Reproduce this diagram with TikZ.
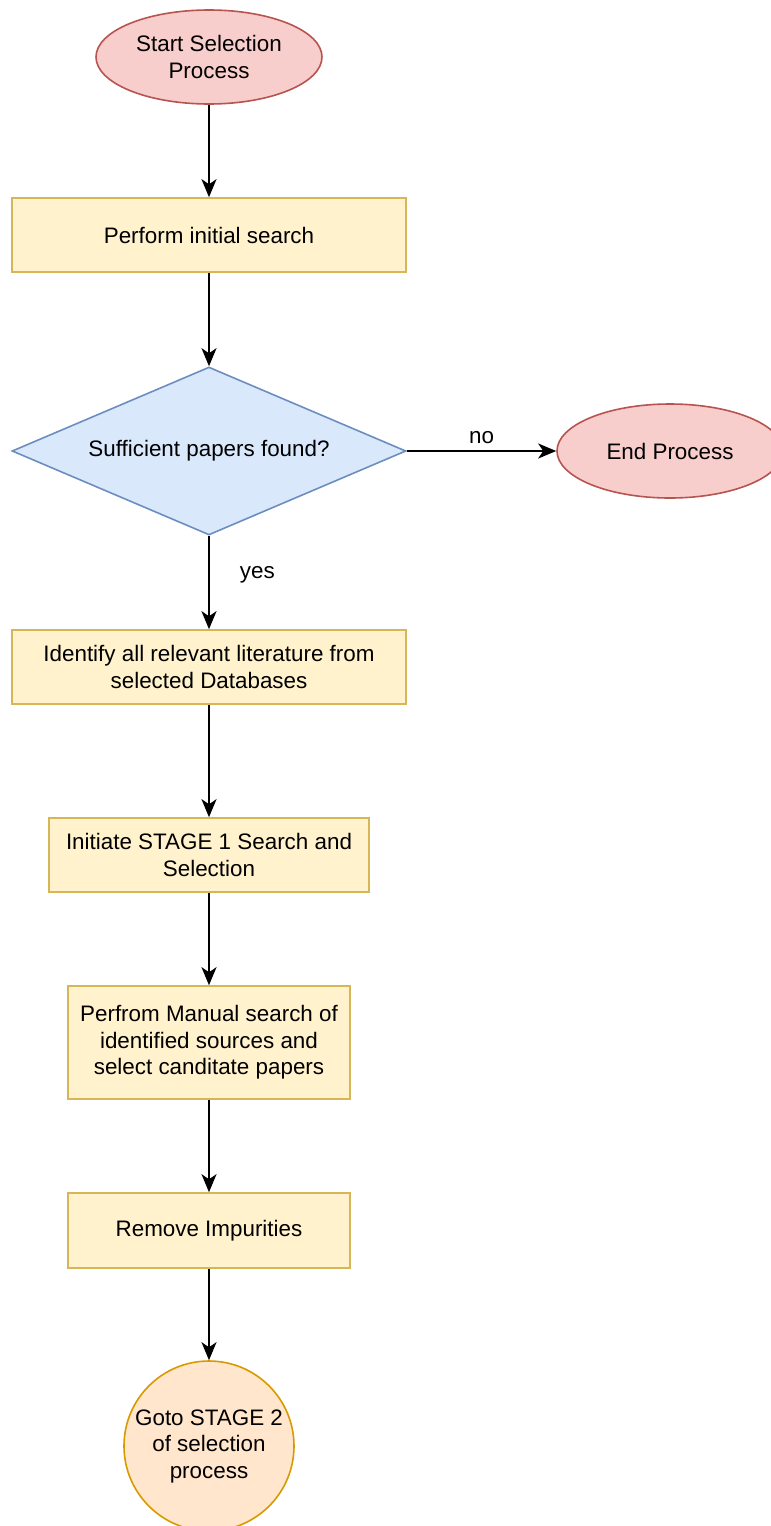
\documentclass[tikz,border=0pt]{standalone}
\usepackage{fontspec}
\setmainfont{Liberation Sans}
\usetikzlibrary{shapes.geometric,arrows.meta}
\definecolor{redfill}{HTML}{F8CECC}
\definecolor{redline}{HTML}{B85450}
\definecolor{yelfill}{HTML}{FFF2CC}
\definecolor{yelline}{HTML}{D6B656}
\definecolor{bluefill}{HTML}{DAE8FC}
\definecolor{blueline}{HTML}{6C8EBF}
\definecolor{orfill}{HTML}{FFE6CC}
\definecolor{orline}{HTML}{D79B00}
\tikzset{
  every node/.style={font=\fontsize{22.4}{26.5}\selectfont, align=center, inner sep=0pt},
  terminal/.style={ellipse, draw=redline, fill=redfill, line width=1.6pt,
    minimum width=226pt, minimum height=94pt},
  process/.style={rectangle, draw=yelline, fill=yelfill, line width=1.6pt,
    minimum height=74pt},
  decision/.style={diamond, draw=blueline, fill=bluefill, line width=1.6pt,
    aspect=2.345, minimum width=394pt, minimum height=168pt},
  connector/.style={circle, draw=orline, fill=orfill, line width=1.6pt,
    minimum size=170pt},
  flow/.style={draw=black, line width=1.8pt,
    -{Stealth[length=18pt,width=15pt,inset=5pt]}},
  edgelabel/.style={fill=none}
}
\begin{document}
\begin{tikzpicture}[x=1pt,y=-1pt]
  \useasboundingbox (0,0) rectangle (771,1526);
  \fill[white] (0,0) rectangle (771,1526);

  \node[terminal] (start) at (209,57) {Start Selection\\Process};
  \node[process, minimum width=394pt] (search) at (209,235) {Perform initial search};
  \node[decision] (enough) at (209,451) {Sufficient papers found?};
  \node[terminal] (finish) at (670,451) {End Process};
  \node[process, minimum width=394pt] (identify) at (209,667)
    {Identify all relevant literature from\\selected Databases};
  \node[process, minimum width=320pt] (stageone) at (209,855)
    {Initiate STAGE 1 Search and\\Selection};
  \node[process, minimum width=282pt, minimum height=113pt] (manual) at (209,1042.5)
    {Perfrom Manual search of\\identified sources and\\select canditate papers};
  \node[process, minimum width=282pt, minimum height=75pt] (clean) at (209,1230.5)
    {Remove Impurities};
  \node[connector] (stagetwo) at (209,1446)
    {Goto STAGE 2\\of selection\\process};

  \draw[flow] (start) -- (search);
  \draw[flow] (search) -- (enough);
  \draw[flow] (enough) -- node[edgelabel, above=6pt] {no} (finish);
  \draw[flow] (enough) -- node[edgelabel, right=30pt, pos=0.42] {yes} (identify);
  \draw[flow] (identify) -- (stageone);
  \draw[flow] (stageone) -- (manual);
  \draw[flow] (manual) -- (clean);
  \draw[flow] (clean) -- (stagetwo);
\end{tikzpicture}
\end{document}
